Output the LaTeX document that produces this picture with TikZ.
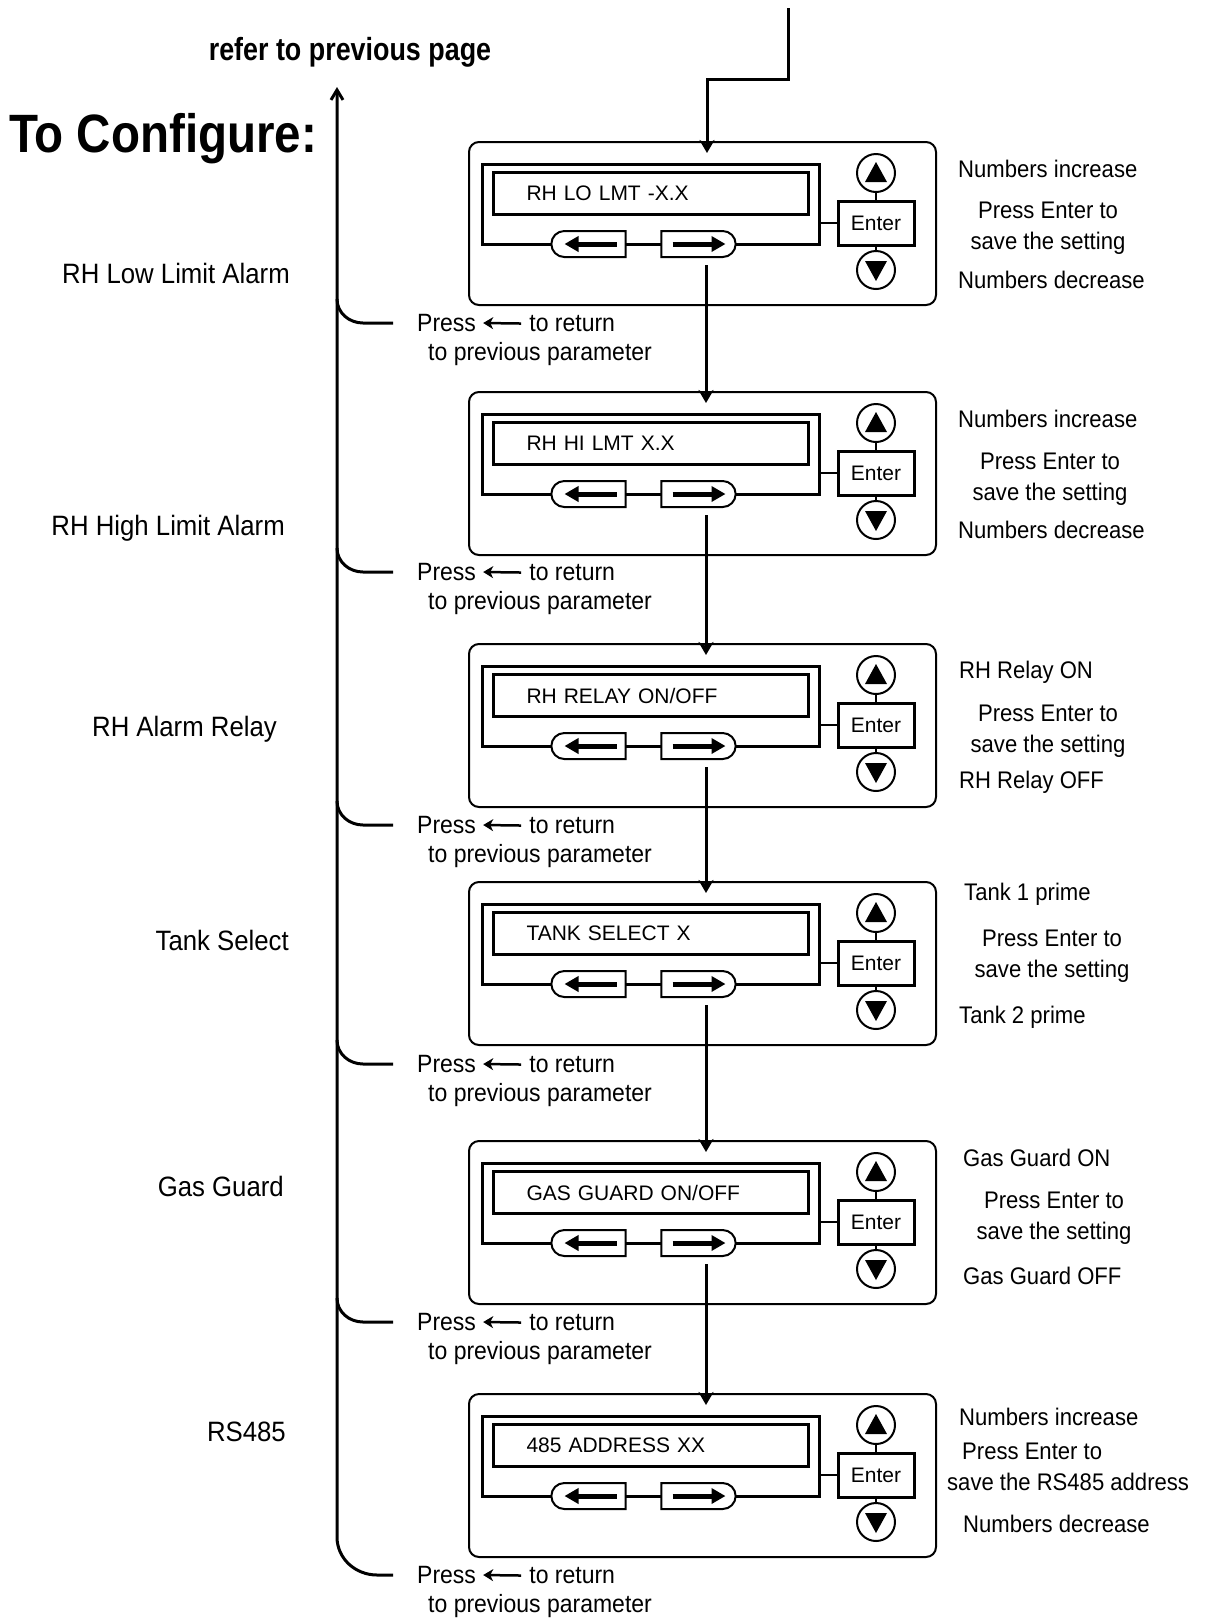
\documentclass[tikz,border=0pt]{standalone}
\usepackage{fontspec}
\setmainfont{Liberation Sans}
\newfontfamily\narrowfont[FakeStretch=0.92]{Liberation Sans}
\newfontfamily\titlefont[FakeStretch=0.88]{Liberation Sans}
\newfontfamily\referfont[FakeStretch=0.84]{Liberation Sans}
\usetikzlibrary{positioning}
\usetikzlibrary{calc}
\usetikzlibrary{arrows.meta}
\usetikzlibrary{shapes.misc}

\begin{document}
\begin{tikzpicture}[x=1pt,y=-1pt,
	panel/.style={rectangle, draw=black, line width=2pt, rounded corners=10pt, minimum width=467pt, minimum height=163pt, anchor=north west},
	lcdframe/.style={rectangle, draw=black, line width=2.5pt, minimum width=337pt, minimum height=80pt, anchor=north west},
	lcd/.style={rectangle, draw=black, line width=3pt, text width=249pt, inner xsep=33pt, minimum height=42pt, anchor=north west, font={\fontsize{21}{25}\selectfont}},
	btn/.style={rounded rectangle, draw=black, line width=2pt, fill=white, minimum width=81pt, minimum height=26pt},
	enterkey/.style={rectangle, draw=black, line width=3pt, fill=white, minimum width=76pt, minimum height=44pt, inner sep=0pt, font={\fontsize{21}{25}\selectfont}},
	updown/.style={circle, draw=black, line width=2pt, minimum size=38pt, inner sep=0pt},
	keyarrow/.style={line width=5pt, -{Triangle[length=14pt,width=15pt]}},
	flow/.style={line width=3pt, -{Stealth[length=13pt,width=15pt,inset=4pt]}},
	retarrow/.style={line width=2.5pt, -{Stealth[length=10pt,width=12pt,inset=3pt]}},
	spine/.style={line width=3pt},
	lefttext/.style={font={\narrowfont\fontsize{28}{34}\selectfont}, anchor=east, inner sep=0pt},
	note/.style={font={\narrowfont\fontsize{24}{31}\selectfont}, inner sep=0pt},
	retnote/.style={font={\narrowfont\fontsize{25}{30}\selectfont}, anchor=west, inner sep=0pt}]
	\useasboundingbox (0,0) rectangle (1207,1618);

	\node[font={\referfont\bfseries\fontsize{32}{38}\selectfont}] (refer) at (350,52) {refer to previous page};
	\node[font={\titlefont\bfseries\fontsize{54}{60}\selectfont}, anchor=base west, inner sep=0pt] (title) at (9,152) {To Configure:};

	% the six display panels
	\foreach \i/\yy/\msg in {1/141/{RH LO LMT -X.X}, 2/391/{RH HI LMT X.X}, 3/643/{RH RELAY ON/OFF}, 4/881/{TANK SELECT X}, 5/1140/{GAS GUARD ON/OFF}, 6/1393/{485 ADDRESS XX}} {
		\node[panel] (box\i) at (468,\yy) {};
		\node[lcdframe] (fr\i) at (481,\yy+22) {};
		\node[lcd] (lcd\i) at (492,\yy+30) {\msg};
		\node[btn, rounded rectangle right arc=none] (bl\i) at (588.5,\yy+103) {};
		\node[btn, rounded rectangle left arc=none] (br\i) at (698.5,\yy+103) {};
		\node[enterkey] (en\i) at (876,\yy+82) {Enter};
		\node[updown] (up\i) at (876,\yy+32) {};
		\node[updown] (dn\i) at (876,\yy+129) {};
		\draw[line width=2pt] (up\i) -- (en\i) -- (dn\i);
		\draw[line width=2pt] (fr\i.east |- en\i.west) -- (en\i.west);
		\draw[keyarrow] ([xshift=28pt]bl\i.center) -- ([xshift=-24pt]bl\i.center);
		\draw[keyarrow] ([xshift=-26pt]br\i.center) -- ([xshift=27pt]br\i.center);
		\fill ([shift={(0,-11)}]up\i.center) -- ++(11,20) -- ++(-22,0) -- cycle;
		\fill ([shift={(0,11)}]dn\i.center) -- ++(11,-20) -- ++(-22,0) -- cycle;
	}

	% flow between panels
	\coordinate (input) at (788,8);
	\draw[flow] (input) -- ++(0,71) -| ($(box1.north)+(4.5,12)$);
	\foreach \i/\j in {1/2,2/3,3/4,4/5,5/6}
		\draw[flow] ($(br\i.south)+(7.5,7)$) -- ($(br\i.south |- box\j.north)+(7.5,12)$);

	% parameter names
	\node[lefttext] (lowalarm) at (290,273) {RH Low Limit Alarm};
	\node[lefttext] (highalarm) at (285,528) {RH High Limit Alarm};
	\node[lefttext] (relay) at (277,729) {RH Alarm Relay};
	\node[lefttext] (tank) at (289,940) {Tank Select};
	\node[lefttext] (gas) at (284,1186) {Gas Guard};
	\node[lefttext] (rs) at (286,1432) {RS485};

	% key notes
	\node[note, anchor=west] (hi1) at (958,169) {Numbers increase};
	\node[note, align=center] (msg1) at (1048,228) {Press Enter to\\save the setting};
	\node[note, anchor=west] (lo1) at (958,280) {Numbers decrease};
	\node[note, anchor=west] (hi2) at (958,419) {Numbers increase};
	\node[note, align=center] (msg2) at (1050,479) {Press Enter to\\save the setting};
	\node[note, anchor=west] (lo2) at (958,530) {Numbers decrease};
	\node[note, anchor=west] (hi3) at (959,672) {RH Relay ON};
	\node[note, align=center] (msg3) at (1048,731) {Press Enter to\\save the setting};
	\node[note, anchor=west] (lo3) at (959,782) {RH Relay OFF};
	\node[note, anchor=west] (hi4) at (964,894) {Tank 1 prime};
	\node[note, align=center] (msg4) at (1052,956) {Press Enter to\\save the setting};
	\node[note, anchor=west] (lo4) at (959,1017) {Tank 2 prime};
	\node[note, anchor=west] (hi5) at (963,1158) {Gas Guard ON};
	\node[note, align=center] (msg5) at (1054,1218) {Press Enter to\\save the setting};
	\node[note, anchor=west] (lo5) at (963,1276) {Gas Guard OFF};
	\node[note, anchor=west] (hi6) at (959,1417) {Numbers increase};
	\node[note, anchor=west, align=left] (msg6) at (947,1467) {\hspace*{15pt}Press Enter to\\save the RS485 address};
	\node[note, anchor=west] (lo6) at (963,1524) {Numbers decrease};

	% return notes and the way back
	\foreach \i/\yy in {1/323, 2/572, 3/825, 4/1064, 5/1322, 6/1575} {
		\node[retnote] (press\i) at (417,\yy) {Press};
		\node[retnote, base right=53pt of press\i] (ret\i) {to return};
		\node[retnote, below=10pt of press\i.south west, anchor=north west, xshift=11pt] (par\i) {to previous parameter};
		\draw[retarrow] ([xshift=-8pt]ret\i.west) -- ([xshift=7pt]press\i.east);
	}
	\coordinate (back) at (337,87);
	\foreach \i in {1,...,5}
		\draw[spine] ($(press\i.west -| back)+(0,-24)$) to[out=-90,in=180] ++(26,24) -- ($(press\i.west)+(-24,0)$);
	\draw[spine, -{Straight Barb[length=10pt,width=12pt]}] ($(press6.west)+(-24,0)$) -- ($(press6.west -| back)+(40,0)$) to[out=180,in=-90] ++(-40,-38) -- (back);
\end{tikzpicture}
\end{document}
